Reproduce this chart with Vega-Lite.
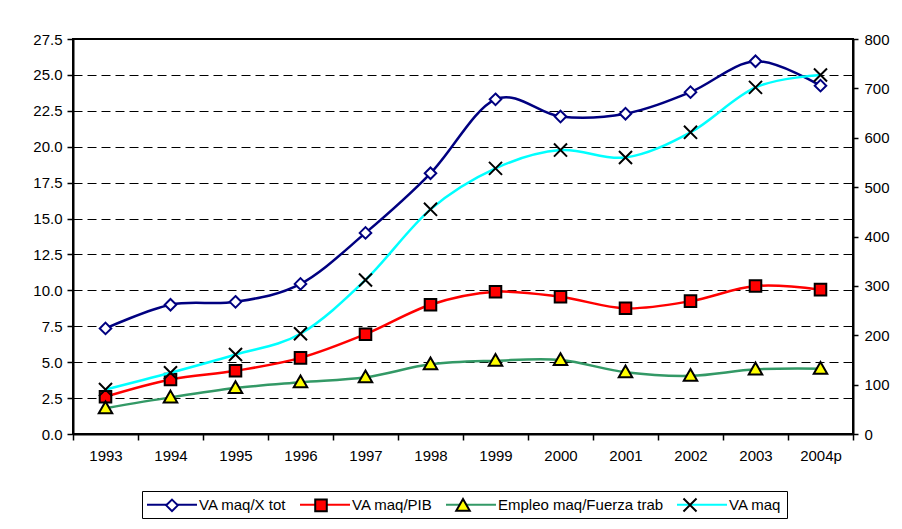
{
  "$schema": "https://vega.github.io/schema/vega-lite/v6.json",
  "width": 780,
  "height": 395,
  "autosize": "none",
  "padding": {"left": 73, "top": 39, "right": 49, "bottom": 95},
  "background": "white",
  "config": {
    "font": "Liberation Sans",
    "view": {"stroke": "black", "strokeWidth": 2},
    "axis": {
      "labelFont": "Liberation Sans",
      "labelFontSize": 15,
      "labelColor": "black",
      "domainColor": "black",
      "domainWidth": 2,
      "tickColor": "black",
      "tickWidth": 1.5,
      "title": null
    },
    "legend": {
      "labelFont": "Liberation Sans",
      "labelFontSize": 15,
      "labelColor": "black",
      "labelLimit": 400
    }
  },
  "data": {
    "values": [
      {"year": "1993", "serie": "VA maq/X tot", "value": 7.35},
      {"year": "1994", "serie": "VA maq/X tot", "value": 9.0},
      {"year": "1995", "serie": "VA maq/X tot", "value": 9.2},
      {"year": "1996", "serie": "VA maq/X tot", "value": 10.45},
      {"year": "1997", "serie": "VA maq/X tot", "value": 14.0},
      {"year": "1998", "serie": "VA maq/X tot", "value": 18.15},
      {"year": "1999", "serie": "VA maq/X tot", "value": 23.3},
      {"year": "2000", "serie": "VA maq/X tot", "value": 22.1},
      {"year": "2001", "serie": "VA maq/X tot", "value": 22.3},
      {"year": "2002", "serie": "VA maq/X tot", "value": 23.8},
      {"year": "2003", "serie": "VA maq/X tot", "value": 25.95},
      {"year": "2004p", "serie": "VA maq/X tot", "value": 24.25},
      {"year": "1993", "serie": "VA maq/PIB", "value": 2.6},
      {"year": "1994", "serie": "VA maq/PIB", "value": 3.8},
      {"year": "1995", "serie": "VA maq/PIB", "value": 4.4},
      {"year": "1996", "serie": "VA maq/PIB", "value": 5.3},
      {"year": "1997", "serie": "VA maq/PIB", "value": 6.95},
      {"year": "1998", "serie": "VA maq/PIB", "value": 9.0},
      {"year": "1999", "serie": "VA maq/PIB", "value": 9.9},
      {"year": "2000", "serie": "VA maq/PIB", "value": 9.55},
      {"year": "2001", "serie": "VA maq/PIB", "value": 8.75},
      {"year": "2002", "serie": "VA maq/PIB", "value": 9.25},
      {"year": "2003", "serie": "VA maq/PIB", "value": 10.3},
      {"year": "2004p", "serie": "VA maq/PIB", "value": 10.05},
      {"year": "1993", "serie": "Empleo maq/Fuerza trab", "value": 1.8},
      {"year": "1994", "serie": "Empleo maq/Fuerza trab", "value": 2.55},
      {"year": "1995", "serie": "Empleo maq/Fuerza trab", "value": 3.2},
      {"year": "1996", "serie": "Empleo maq/Fuerza trab", "value": 3.6},
      {"year": "1997", "serie": "Empleo maq/Fuerza trab", "value": 3.95},
      {"year": "1998", "serie": "Empleo maq/Fuerza trab", "value": 4.85},
      {"year": "1999", "serie": "Empleo maq/Fuerza trab", "value": 5.1},
      {"year": "2000", "serie": "Empleo maq/Fuerza trab", "value": 5.15},
      {"year": "2001", "serie": "Empleo maq/Fuerza trab", "value": 4.3},
      {"year": "2002", "serie": "Empleo maq/Fuerza trab", "value": 4.05},
      {"year": "2003", "serie": "Empleo maq/Fuerza trab", "value": 4.5},
      {"year": "2004p", "serie": "Empleo maq/Fuerza trab", "value": 4.55},
      {"year": "1993", "serie": "VA maq", "value": 90},
      {"year": "1994", "serie": "VA maq", "value": 124},
      {"year": "1995", "serie": "VA maq", "value": 161},
      {"year": "1996", "serie": "VA maq", "value": 203},
      {"year": "1997", "serie": "VA maq", "value": 312},
      {"year": "1998", "serie": "VA maq", "value": 455},
      {"year": "1999", "serie": "VA maq", "value": 538},
      {"year": "2000", "serie": "VA maq", "value": 575},
      {"year": "2001", "serie": "VA maq", "value": 560},
      {"year": "2002", "serie": "VA maq", "value": 611},
      {"year": "2003", "serie": "VA maq", "value": 702},
      {"year": "2004p", "serie": "VA maq", "value": 727}
    ]
  },
  "layer": [
    {
      "transform": [{"filter": "datum.serie !== 'VA maq'"}],
      "encoding": {
        "x": {
          "field": "year", "type": "ordinal",
          "scale": {"type": "band", "paddingInner": 0, "paddingOuter": 0},
          "bandPosition": 0.5,
          "axis": {"tickBand": "extent", "labelAngle": 0, "tickSize": 6, "labelPadding": 8, "title": null}
        },
        "y": {
          "field": "value", "type": "quantitative",
          "scale": {"domain": [0, 27.5], "nice": false, "zero": true},
          "axis": {
            "orient": "left",
            "values": [0, 2.5, 5, 7.5, 10, 12.5, 15, 17.5, 20, 22.5, 25, 27.5],
            "format": ".1f",
            "grid": true, "gridColor": "black", "gridDash": [9, 5], "gridWidth": 1,
            "tickSize": 6, "labelPadding": 5, "title": null
          }
        }
      },
      "layer": [
        {
          "mark": {"type": "line", "interpolate": "cardinal", "strokeWidth": 2.5},
          "encoding": {
            "color": {
              "field": "serie", "type": "nominal",
              "scale": {
                "domain": ["VA maq/X tot", "VA maq/PIB", "Empleo maq/Fuerza trab", "VA maq"],
                "range": ["#000080", "#FF0000", "#339966", "#00FFFF"]
              },
              "legend": {
                "orient": "none", "legendX": 69, "legendY": 452, "direction": "horizontal",
                "title": null, "symbolType": "M-3.333,0L3.333,0", "symbolSize": 225, "symbolStrokeWidth": 2,
                "symbolOffset": 16.5, "labelOffset": 18.5, "columnPadding": 9, "padding": 5,
                "strokeColor": "black", "fillColor": "white", "zindex": 0
              }
            }
          }
        },
        {
          "mark": {"type": "point", "size": 225, "opacity": 1, "strokeWidth": 2},
          "encoding": {
            "shape": {
              "field": "serie", "type": "nominal",
              "scale": {
                "domain": ["VA maq/X tot", "VA maq/PIB", "Empleo maq/Fuerza trab", "VA maq", "-"],
                "range": [
                  "M0,-0.77L0.77,0L0,0.77L-0.77,0Z",
                  "M-0.77,-0.77L0.77,-0.77L0.77,0.77L-0.77,0.77Z",
                  "M0,-0.9L0.9,0.67L-0.9,0.67Z",
                  "M-0.87,-0.87L0.87,0.87M-0.87,0.87L0.87,-0.87",
                  "circle"
                ]
              },
              "legend": {
                "orient": "none", "legendX": 69, "legendY": 452, "direction": "horizontal",
                "title": null, "symbolSize": 225, "symbolStrokeWidth": 2,
                "symbolOffset": 16.5, "labelOffset": 18.5, "columnPadding": 9, "padding": 5, "labelOpacity": 0,
                "values": ["VA maq/X tot", "VA maq/PIB", "Empleo maq/Fuerza trab", "VA maq"],
                "zindex": 1
              }
            },
            "fill": {
              "field": "serie", "type": "nominal",
              "scale": {
                "domain": ["VA maq/X tot", "VA maq/PIB", "Empleo maq/Fuerza trab", "VA maq", "-"],
                "range": ["#FFFFFF", "#FF0000", "#FFFF00", "#000000", "#000000"]
              }
            },
            "stroke": {
              "field": "serie", "type": "nominal",
              "scale": {
                "domain": ["VA maq/X tot", "VA maq/PIB", "Empleo maq/Fuerza trab", "VA maq", "-"],
                "range": ["#000080", "#000000", "#000000", "#000000", "#000000"]
              }
            }
          }
        }
      ]
    },
    {
      "transform": [{"filter": "datum.serie === 'VA maq'"}],
      "encoding": {
        "x": {
          "field": "year", "type": "ordinal",
          "scale": {"type": "band", "paddingInner": 0, "paddingOuter": 0},
          "bandPosition": 0.5,
          "axis": {"tickBand": "extent", "labelAngle": 0, "tickSize": 6, "labelPadding": 8, "title": null}
        },
        "y": {
          "field": "value", "type": "quantitative",
          "scale": {"domain": [0, 800], "nice": false, "zero": true},
          "axis": {
            "orient": "right",
            "values": [0, 100, 200, 300, 400, 500, 600, 700, 800],
            "format": "d", "grid": false,
            "tickSize": 5, "labelPadding": 6, "title": null
          }
        }
      },
      "layer": [
        {
          "mark": {"type": "line", "interpolate": "cardinal", "strokeWidth": 2.5},
          "encoding": {
            "color": {"field": "serie", "type": "nominal"}
          }
        },
        {
          "mark": {"type": "point", "size": 225, "opacity": 1, "strokeWidth": 2},
          "encoding": {
            "shape": {"field": "serie", "type": "nominal"},
            "fill": {"field": "serie", "type": "nominal"},
            "stroke": {"field": "serie", "type": "nominal"}
          }
        }
      ]
    }
  ],
  "resolve": {"scale": {"y": "independent"}}
}
